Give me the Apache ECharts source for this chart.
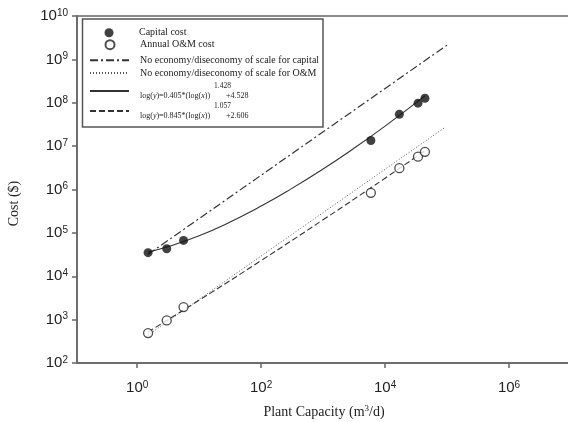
<!DOCTYPE html>
<html>
<head>
<meta charset="utf-8">
<script src="https://cdn.jsdelivr.net/npm/echarts@6/dist/echarts.min.js"></script>
<style>
  html, body { margin: 0; padding: 0; background: #fff; }
  #chart { width: 568px; height: 422px; }
</style>
</head>
<body>
<div id="chart"></div>
<script>
// plant capacity (m3/d) shared by both cost series
const capacity = [1.5, 3, 5.6, 5900, 17000, 34000, 44000]
const capitalCost = [35000, 43000, 67000, 13500000, 54000000, 98000000, 127000000]
const omCost = [490, 960, 1950, 840000, 3100000, 5700000, 7400000]

// fitted curves
const capitalFitX = [1.5, 3, 10, 30, 100, 300, 1000, 3000, 10000, 44000]
const capitalFitY = [36000, 47000, 86000, 172000, 415000, 1020000, 2970000, 8500000, 29000000, 144000000]
const omFitX = [1.5, 10, 100, 1000, 10000, 44000]
const omFitY = [520, 2800, 23000, 200000, 1820000, 7850000]

// no economy/diseconomy of scale reference lines
const capitalLinearX = [1.5, 100000]
const capitalLinearY = [32000, 2130000000]
const omLinearX = [1.5, 93000]
const omLinearY = [440, 27200000]

const xTicks = [1, 100, 10000, 1000000]

const pairs = (xs, ys) => xs.map((x, i) => [x, ys[i]])
const lineColor = '#333'
const axisColor = '#666'
const serif = 'Liberation Serif'

const supLabel = v => '10{sup|' + Math.round(Math.log10(v)) + '}'
const tickRich = {
  sup: { fontSize: 10, fontFamily: 'Liberation Sans', color: '#222', verticalAlign: 'top', padding: [0, 0, 6, 0] },
}

const chart = echarts.init(document.getElementById('chart'))

const baseText = { fontFamily: serif, fontSize: 10, lineHeight: 12, color: '#222' }

// one legend per row so each row sits where it does in the figure
function markerRow(name, top) {
  return {
    data: [name], left: 104.5, top: top, padding: 0,
    itemWidth: 9, itemHeight: 9, selectedMode: false,
    textStyle: Object.assign({ padding: [0, 0, 0, 20.5] }, baseText),
  }
}
function lineRow(name, top, extra) {
  return Object.assign({
    data: [name], left: 89, top: top, padding: 0,
    itemWidth: 39, itemHeight: 9, selectedMode: false,
    itemStyle: { color: 'rgba(0,0,0,0)', borderWidth: 0 },
    textStyle: Object.assign({ padding: [0, 0, 0, 6] }, baseText),
  }, extra || {})
}

const formulaRich = {
  m: { fontFamily: serif, fontSize: 8, color: '#222', lineHeight: 10 },
  i: { fontFamily: serif, fontSize: 8, fontStyle: 'italic', color: '#222', lineHeight: 10 },
  s: { fontFamily: serif, fontSize: 7.5, color: '#222', lineHeight: 10 },
  p: { width: 74, lineHeight: 10 },
  g: { width: 16, lineHeight: 10 },
}
function formula(a, e, b) {
  return '{p| }{s|' + e + '}\n{m|log(}{i|y}{m|)=' + a + '*(log(}{i|x}{m|))}{g| }{m|' + b + '}'
}

chart.setOption({
  animation: false,
  grid: {
    left: 77, width: 494, top: 16, bottom: 59,
    outerBoundsMode: 'none',
    show: true, borderColor: axisColor, borderWidth: 1.5,
  },
  graphic: [{
    type: 'rect',
    shape: { x: 82.5, y: 19, width: 240.5, height: 108 },
    style: { fill: '#fff', stroke: '#555', lineWidth: 1.5 },
    z: 0,
  }],
  legend: [
    markerRow('Capital cost', 26.7),
    markerRow('Annual O&M cost', 38.7),
    lineRow('No economy/diseconomy of scale for capital', 54.3),
    lineRow('No economy/diseconomy of scale for O&M', 67),
    lineRow('fitCapital', 80, {
      formatter: () => formula('0.405', '1.428', '+4.528'),
      textStyle: { rich: formulaRich, padding: [0, 0, 0, 6] },
    }),
    lineRow('fitOM', 100, {
      formatter: () => formula('0.845', '1.057', '+2.606'),
      textStyle: { rich: formulaRich, padding: [0, 0, 0, 6] },
    }),
  ],
  xAxis: {
    type: 'log',
    logBase: 10,
    min: 0.107,
    max: 10000000,
    name: 'Plant Capacity (m{sup|3}/d)',
    nameLocation: 'middle',
    nameGap: 41,
    nameTextStyle: {
      fontFamily: serif, fontSize: 14, color: '#222',
      rich: { sup: { fontFamily: serif, fontSize: 9, color: '#222', verticalAlign: 'top', padding: [0, 0, 7, 0] } },
    },
    axisLine: { lineStyle: { color: axisColor, width: 1.5 } },
    axisTick: { length: 5, lineStyle: { color: axisColor, width: 1.5 }, customValues: xTicks },
    axisLabel: {
      customValues: xTicks,
      margin: 17,
      formatter: supLabel,
      fontFamily: 'Liberation Sans', fontSize: 15, color: '#222',
      rich: tickRich,
    },
    splitLine: { show: false },
  },
  yAxis: {
    type: 'log',
    logBase: 10,
    min: 100,
    max: 10000000000,
    name: 'Cost ($)',
    nameLocation: 'middle',
    nameGap: 56,
    nameTextStyle: { fontFamily: serif, fontSize: 14, color: '#222', padding: [0, 28, 0, 0] },
    axisLine: { lineStyle: { color: axisColor, width: 1.5 } },
    axisTick: { length: 5, lineStyle: { color: axisColor, width: 1.5 } },
    axisLabel: {
      margin: 9,
      formatter: supLabel,
      fontFamily: 'Liberation Sans', fontSize: 15, color: '#222',
      rich: tickRich,
    },
    splitLine: { show: false },
  },
  series: [
    {
      name: 'Capital cost',
      type: 'scatter',
      data: pairs(capacity, capitalCost),
      symbol: 'circle',
      symbolSize: 9,
      itemStyle: { color: '#111' },
      z: 5,
    },
    {
      name: 'Annual O&M cost',
      type: 'scatter',
      data: pairs(capacity, omCost),
      symbol: 'circle',
      symbolSize: 9,
      itemStyle: { color: '#fff', borderColor: '#222', borderWidth: 1.3 },
      z: 5,
    },
    {
      name: 'No economy/diseconomy of scale for capital',
      type: 'line',
      data: pairs(capitalLinearX, capitalLinearY),
      symbol: 'none',
      itemStyle: { color: lineColor },
      lineStyle: { color: lineColor, width: 1.2, type: [8, 3, 2, 3] },
      z: 2,
    },
    {
      name: 'No economy/diseconomy of scale for O&M',
      type: 'line',
      data: pairs(omLinearX, omLinearY),
      symbol: 'none',
      itemStyle: { color: '#555' },
      lineStyle: { color: '#555', width: 1, type: [1, 2] },
      z: 2,
    },
    {
      name: 'fitCapital',
      type: 'line',
      data: pairs(capitalFitX, capitalFitY),
      symbol: 'none',
      smooth: true,
      itemStyle: { color: lineColor },
      lineStyle: { color: lineColor, width: 1.1 },
      z: 2,
    },
    {
      name: 'fitOM',
      type: 'line',
      data: pairs(omFitX, omFitY),
      symbol: 'none',
      smooth: true,
      itemStyle: { color: lineColor },
      lineStyle: { color: lineColor, width: 1.1, type: [6, 3] },
      z: 2,
    },
  ],
})
</script>
</body>
</html>
